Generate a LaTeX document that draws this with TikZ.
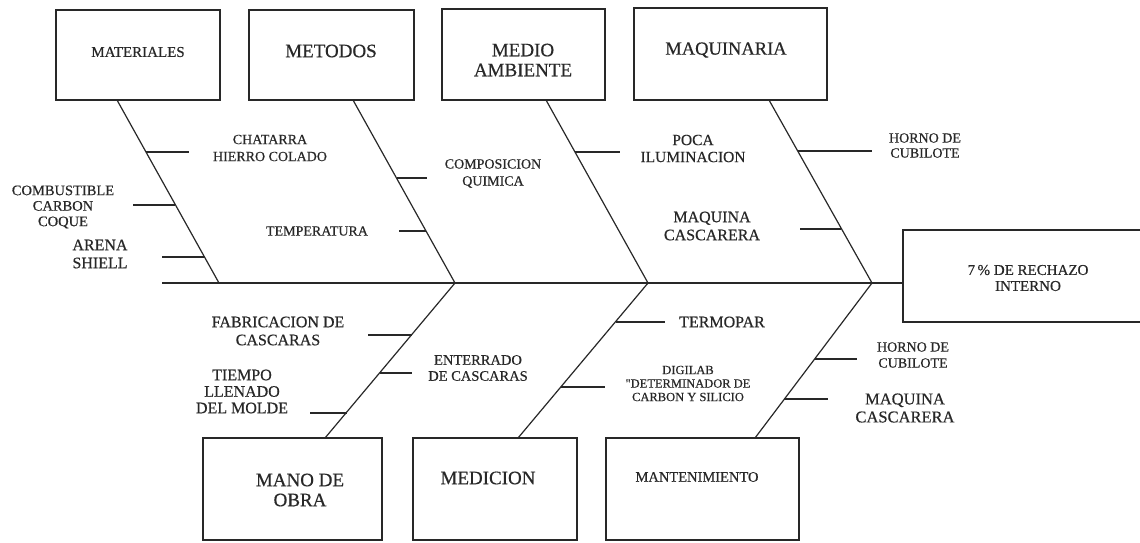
\documentclass[tikz,border=0pt]{standalone}
\usepackage{fontspec}
\setmainfont{Liberation Serif}[FakeBold=0.5]
\definecolor{ink}{RGB}{40,40,40}
\newcommand{\myfs}[2]{\fontsize{#1}{#2}\selectfont}
\tikzset{
  ln/.style={line width=1.2pt, draw=ink},
  box/.style={draw=ink, line width=1.2pt, inner sep=0pt, outer sep=0pt},
  lbl/.style={text=ink, align=center, inner sep=0pt},
}
\begin{document}
\begin{tikzpicture}[x=1pt,y=-1pt]
\path[use as bounding box, fill=white] (0,0) rectangle (1140,542);
\clip (0,0) rectangle (1140,542);

% ---- boxes ----
\node[box, minimum width=164pt, minimum height=90pt] (mat) at (138,55) {};
\node[box, minimum width=165pt, minimum height=90pt] (met) at (331.5,55) {};
\node[box, minimum width=163pt, minimum height=91pt] (med) at (523.5,54.5) {};
\node[box, minimum width=193pt, minimum height=92pt] (maq) at (730.5,54) {};
\node[box, minimum width=179pt, minimum height=102pt] (mano) at (292.5,489) {};
\node[box, minimum width=164pt, minimum height=102pt] (medc) at (495,489) {};
\node[box, minimum width=193pt, minimum height=102pt] (mant) at (702.5,489) {};
\node[box, minimum width=240pt, minimum height=92pt] (res) at (1023,276) {};

% ---- box texts ----
\node[lbl, font=\myfs{15}{17}] (matT) at (138,52) {MATERIALES};
\node[lbl, font=\myfs{19}{20}] (metT) at (331,51) {METODOS};
\node[lbl, font=\myfs{19}{20}] (medT) at (523,60) {MEDIO\\AMBIENTE};
\node[lbl, font=\myfs{18.5}{20}] (maqT) at (726,50) {MAQUINARIA};
\node[lbl, font=\myfs{19}{20}] (manoT) at (300,490) {MANO DE\\OBRA};
\node[lbl, font=\myfs{19}{20}] (medcT) at (488,478) {MEDICION};
\node[lbl, font=\myfs{14.5}{16}] (mantT) at (697,477) {MANTENIMIENTO};
\node[lbl, font=\myfs{15}{16}] (resT) at (1028,278) {7\,\% DE RECHAZO\\INTERNO};

% ---- spine and bones ----
\coordinate (S0) at (162,283);
\coordinate (J1) at (219,283);
\coordinate (J2) at (455,283);
\coordinate (J3) at (648,283);
\coordinate (J4) at (872,283);
\coordinate (T1) at (117,100);
\coordinate (T2) at (353,100);
\coordinate (T3) at (546,100);
\coordinate (T4) at (769,100);
\coordinate (B2) at (325,438);
\coordinate (B3) at (518,438);
\coordinate (B4) at (755,438);

\draw[ln] (S0) -- (S0 -| res.west);
\draw[ln] (T1) -- (J1);
\draw[ln] (T2) -- (J2);
\draw[ln] (T3) -- (J3);
\draw[ln] (T4) -- (J4);
\draw[ln] (B2) -- (J2);
\draw[ln] (B3) -- (J3);
\draw[ln] (B4) -- (J4);

% ---- branches ----
\coordinate (a1) at (146,152); \coordinate (a2) at (189,152);
\coordinate (b1) at (133,205); \coordinate (b2) at (175,205);
\coordinate (c1) at (162,257); \coordinate (c2) at (205,257);
\coordinate (d1) at (397,178); \coordinate (d2) at (427,178);
\coordinate (e1) at (399,231); \coordinate (e2) at (426,231);
\coordinate (f1) at (575,152); \coordinate (f2) at (620,152);
\coordinate (g1) at (800,229); \coordinate (g2) at (841,229);
\coordinate (h1) at (798,151); \coordinate (h2) at (872,151);
\coordinate (i1) at (368,335); \coordinate (i2) at (412,335);
\coordinate (k1) at (380,373); \coordinate (k2) at (412,373);
\coordinate (l1) at (310,413); \coordinate (l2) at (347,413);
\coordinate (m1) at (616,322); \coordinate (m2) at (665,322);
\coordinate (n1) at (561,387); \coordinate (n2) at (605,387);
\coordinate (o1) at (815,359); \coordinate (o2) at (857,359);
\coordinate (p1) at (784,399); \coordinate (p2) at (828,399);
\foreach \s in {a,b,c,d,e,f,g,h,i,k,l,m,n,o,p}{\draw[ln] (\s1) -- (\s2);}

% ---- labels ----
\node[lbl, font=\myfs{14}{17}] (la) at (270,148) {CHATARRA\\HIERRO COLADO};
\node[lbl, font=\myfs{14.5}{15.5}] (lb) at (63,207) {COMBUSTIBLE\\CARBON\\COQUE};
\node[lbl, font=\myfs{16}{18}] (lc) at (100,254) {ARENA\\SHIELL};
\node[lbl, font=\myfs{14}{17}] (ld) at (493,173.5) {COMPOSICION\\QUIMICA};
\node[lbl, font=\myfs{14}{16}] (le) at (317,231) {TEMPERATURA};
\node[lbl, font=\myfs{15.5}{17}] (lf) at (693,148.5) {POCA\\ILUMINACION};
\node[lbl, font=\myfs{16}{18}] (lg) at (712,226) {MAQUINA\\CASCARERA};
\node[lbl, font=\myfs{14}{15}] (lh) at (925,145.5) {HORNO DE\\CUBILOTE};
\node[lbl, font=\myfs{16}{18}] (li) at (278,331) {FABRICACION DE\\CASCARAS};
\node[lbl, font=\myfs{14.5}{16}] (lk) at (478,368) {ENTERRADO\\DE CASCARAS};
\node[lbl, font=\myfs{16}{16.5}] (ll) at (242,391.5) {TIEMPO\\LLENADO\\DEL MOLDE};
\node[lbl, font=\myfs{16}{18}] (lm) at (722,322) {TERMOPAR};
\node[lbl, font=\myfs{12.5}{13.5}] (ln) at (688,383.5) {DIGILAB\\\textquotedbl DETERMINADOR DE\\CARBON Y SILICIO};
\node[lbl, font=\myfs{14}{16}] (lo) at (913,355) {HORNO DE\\CUBILOTE};
\node[lbl, font=\myfs{16.5}{18}] (lp) at (905,408) {MAQUINA\\CASCARERA};
\end{tikzpicture}
\end{document}
